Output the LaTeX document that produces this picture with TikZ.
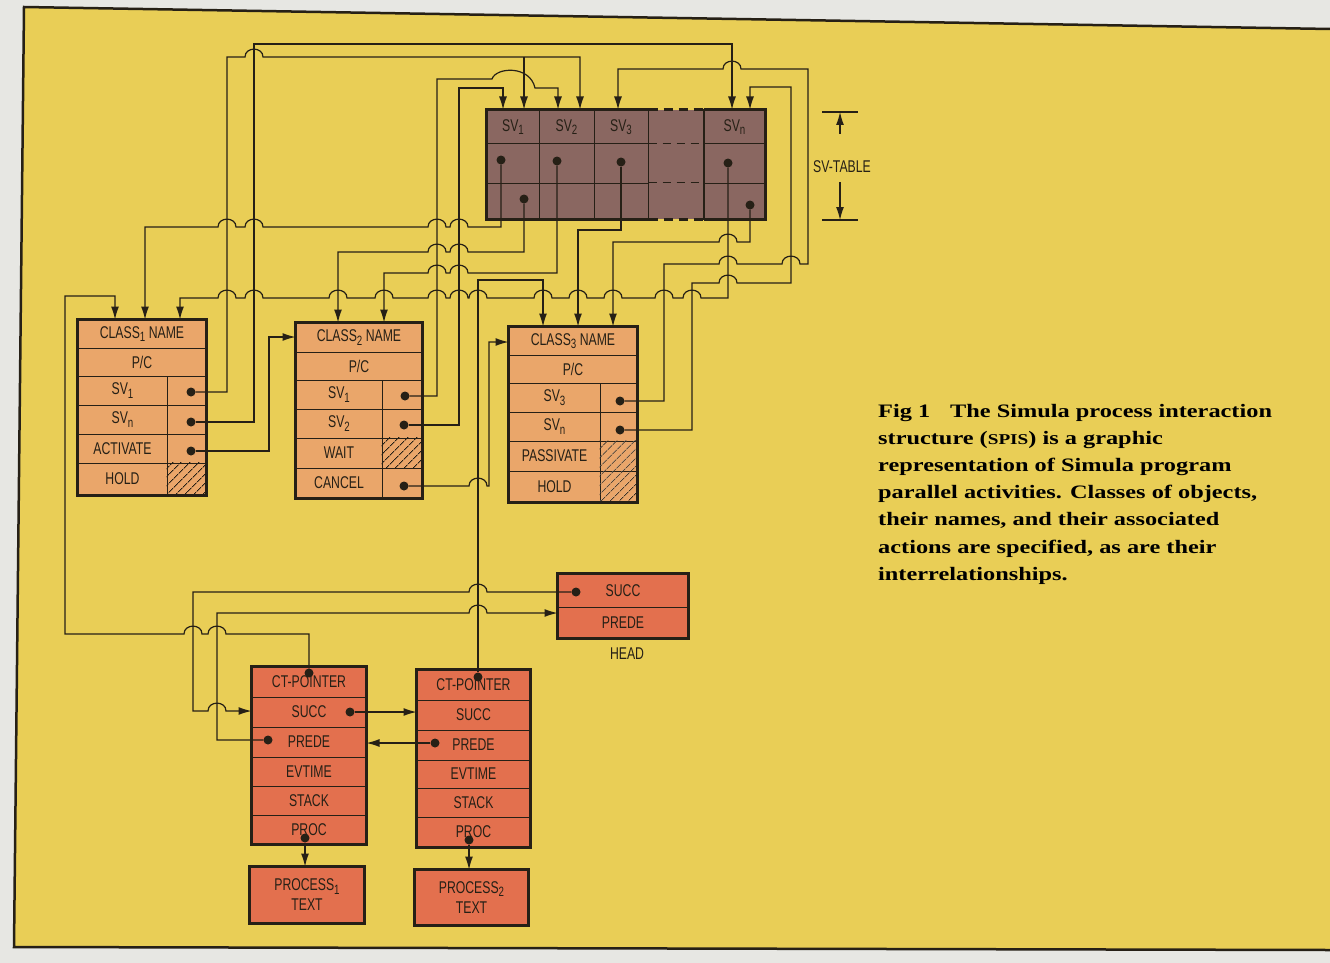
\documentclass[tikz,border=0pt]{standalone}
\usepackage{fontspec}
\setmainfont{Liberation Serif}
\newfontfamily\boxfont[FakeStretch=0.72]{Liberation Sans}
\newfontfamily\capfont[FakeStretch=1.28]{Liberation Serif}
\usetikzlibrary{arrows.meta,patterns.meta}
\definecolor{outbg}{RGB}{231,231,227}
\definecolor{panel}{RGB}{233,206,86}
\definecolor{classcol}{RGB}{234,166,106}
\definecolor{proccol}{RGB}{227,112,78}
\definecolor{svcol}{RGB}{138,103,97}
\definecolor{ink}{RGB}{38,32,22}
\colorlet{cellcol}{classcol}
\newcommand{\lowix}[1]{\raisebox{-3.5pt}{\fontsize{13.5}{13.5}\selectfont #1}}
\newcommand{\cellat}[6]{%
  \pgfmathsetmacro{\cwid}{#4-#2}\pgfmathsetmacro{\chgt}{#5-#3}%
  \node[cell,minimum width=\cwid pt,minimum height=\chgt pt] (#1) at ({(#2+#4)/2},{(#3+#5)/2}) {#6};}
\tikzset{
  wire/.style={draw=ink, line width=1.2pt},
  arr/.style={-{Latex[length=13pt,width=8pt]}},
  dot/.style={circle, fill=ink, inner sep=0pt, minimum size=9pt},
  cell/.style={draw=ink, line width=1pt, fill=cellcol, inner sep=0pt, text=ink, align=center,
    font={\boxfont\fontsize{17}{20}\selectfont}},
  boxedge/.style={draw=ink, line width=2.6pt},
  hatch/.style={pattern={Lines[angle=45,distance=6.5pt,line width=0.8pt]}, pattern color=ink},
  hopr/.style args={#1/#2}{insert path={-- (#1-9,#2) .. controls (#1-9,#2-10.5) and (#1+9,#2-10.5) .. (#1+9,#2)}},
  hopl/.style args={#1/#2}{insert path={-- (#1+9,#2) .. controls (#1+9,#2-10.5) and (#1-9,#2-10.5) .. (#1-9,#2)}},
  lbl/.style={text=ink, inner sep=0pt, font={\boxfont\fontsize{17}{20}\selectfont}},
  capline/.style={text=black, inner sep=0pt, anchor=base west, font={\capfont\bfseries\fontsize{19}{27}\selectfont}},
}
\begin{document}
\begin{tikzpicture}[x=1pt,y=-1pt]
\useasboundingbox (0,0) rectangle (1330,963);
\fill[outbg] (0,0) rectangle (1330,963);
\fill[panel] (24,7) -- (1330,29) -- (1330,950) -- (14,947) -- cycle;
\draw[ink, line width=2.5pt] (1330,29) -- (24,7) -- (14,947) -- (1330,950);

% ---------- CLASS 1 ----------
\colorlet{cellcol}{classcol}
\cellat{c1name}{78}{320}{206}{348}{CLASS\lowix{1} NAME}
\cellat{c1pc}{78}{348}{206}{376}{P/C}
\cellat{c1sv1}{78}{376}{167}{405}{SV\lowix{1}}
\cellat{c1sv1p}{167}{376}{206}{405}{}
\cellat{c1svn}{78}{405}{167}{434}{SV\lowix{n}}
\cellat{c1svnp}{167}{405}{206}{434}{}
\cellat{c1act}{78}{434}{167}{463}{ACTIVATE}
\cellat{c1actp}{167}{434}{206}{463}{}
\cellat{c1hold}{78}{463}{167}{495}{HOLD}
\cellat{c1holdp}{167}{463}{206}{495}{}
\path[hatch] (c1holdp.north west) rectangle (c1holdp.south east);
\draw[boxedge] (c1name.north west) rectangle (c1holdp.south east);
\node[dot] (c1sv1d) at (191,392) {};
\node[dot] (c1svnd) at (191,422) {};
\node[dot] (c1actd) at (191,451) {};

% ---------- CLASS 2 ----------
\cellat{c2name}{296}{323}{422}{352}{CLASS\lowix{2} NAME}
\cellat{c2pc}{296}{352}{422}{380}{P/C}
\cellat{c2sv1}{296}{380}{382}{409}{SV\lowix{1}}
\cellat{c2sv1p}{382}{380}{422}{409}{}
\cellat{c2sv2}{296}{409}{382}{438}{SV\lowix{2}}
\cellat{c2sv2p}{382}{409}{422}{438}{}
\cellat{c2wait}{296}{438}{382}{468}{WAIT}
\cellat{c2waitp}{382}{438}{422}{468}{}
\cellat{c2can}{296}{468}{382}{498}{CANCEL}
\cellat{c2canp}{382}{468}{422}{498}{}
\path[hatch] (c2waitp.north west) rectangle (c2waitp.south east);
\draw[boxedge] (c2name.north west) rectangle (c2canp.south east);
\node[dot] (c2sv1d) at (405,396) {};
\node[dot] (c2sv2d) at (404,425) {};
\node[dot] (c2cand) at (404,486) {};

% ---------- CLASS 3 ----------
\cellat{c3name}{509}{327}{637}{355}{CLASS\lowix{3} NAME}
\cellat{c3pc}{509}{355}{637}{383}{P/C}
\cellat{c3sv3}{509}{383}{600}{412}{SV\lowix{3}}
\cellat{c3sv3p}{600}{383}{637}{412}{}
\cellat{c3svn}{509}{412}{600}{441}{SV\lowix{n}}
\cellat{c3svnp}{600}{412}{637}{441}{}
\cellat{c3pas}{509}{441}{600}{471}{PASSIVATE}
\cellat{c3pasp}{600}{441}{637}{471}{}
\cellat{c3hold}{509}{471}{600}{502}{HOLD}
\cellat{c3holdp}{600}{471}{637}{502}{}
\path[hatch] (c3pasp.north west) rectangle (c3holdp.south east);
\draw[boxedge] (c3name.north west) rectangle (c3holdp.south east);
\node[dot] (c3sv3d) at (620,401) {};
\node[dot] (c3svnd) at (620,430) {};

% ---------- SV TABLE ----------
\colorlet{cellcol}{svcol}
\fill[svcol] (648,110) rectangle (704,219);
\cellat{t1h}{487}{110}{539}{144}{SV\lowix{1}}
\cellat{t1a}{487}{144}{539}{183}{}
\cellat{t1b}{487}{183}{539}{219}{}
\cellat{t2h}{539}{110}{594}{144}{SV\lowix{2}}
\cellat{t2a}{539}{144}{594}{183}{}
\cellat{t2b}{539}{183}{594}{219}{}
\cellat{t3h}{594}{110}{648}{144}{SV\lowix{3}}
\cellat{t3a}{594}{144}{648}{183}{}
\cellat{t3b}{594}{183}{648}{219}{}
\cellat{tnh}{704}{110}{765}{144}{SV\lowix{n}}
\cellat{tna}{704}{144}{765}{183}{}
\cellat{tnb}{704}{183}{765}{219}{}
\draw[boxedge] (t3h.north east) -- (t1h.north west) -- (t1b.south west) -- (t3b.south east);
\draw[boxedge] (tnh.north west) -- (tnh.north east) -- (tnb.south east) -- (tnb.south west);
\draw[ink, line width=1.3pt] (t3h.north east) -- (t3b.south east);
\draw[ink, line width=1.3pt] (tnh.north west) -- (tnb.south west);
\draw[ink, line width=2.6pt, dash pattern=on 9pt off 6pt] (t3h.north east) -- (tnh.north west);
\draw[ink, line width=2.6pt, dash pattern=on 9pt off 6pt] (t3b.south east) -- (tnb.south west);
\draw[ink, line width=1pt, dash pattern=on 8pt off 6pt] (t3a.north east) -- (tna.north west);
\draw[ink, line width=1pt, dash pattern=on 8pt off 6pt] (t3b.north east) -- (tnb.north west);
\node[dot] (t1ad) at (501,160) {};
\node[dot] (t1bd) at (524,199) {};
\node[dot] (t2ad) at (557,161) {};
\node[dot] (t3ad) at (621,162) {};
\node[dot] (tnad) at (728,163) {};
\node[dot] (tnbd) at (750,205) {};

% SV-TABLE dimension
\coordinate (dimtop) at (840,112);
\coordinate (dimbot) at (840,220);
\coordinate (dima) at (840,134);
\coordinate (dimb) at (840,182);
\draw[wire] (822,112) -- (858,112);
\draw[wire] (822,220) -- (858,220);
\node[lbl] (svtab) at (842,167) {SV-TABLE};
\draw[wire,arr] (dima) -- (dimtop);
\draw[wire,arr] (dimb) -- (dimbot);

% ---------- PROCESS OBJECTS ----------
\colorlet{cellcol}{proccol}
\cellat{p1ct}{252}{667}{366}{697}{CT-POINTER}
\cellat{p1suc}{252}{697}{366}{727}{SUCC}
\cellat{p1pre}{252}{727}{366}{757}{PREDE}
\cellat{p1evt}{252}{757}{366}{786}{EVTIME}
\cellat{p1stk}{252}{786}{366}{815}{STACK}
\cellat{p1proc}{252}{815}{366}{844}{PROC}
\draw[boxedge] (p1ct.north west) rectangle (p1proc.south east);
\cellat{p1txt}{250}{867}{364}{923}{PROCESS\lowix{1}\\TEXT}
\draw[boxedge] (p1txt.north west) rectangle (p1txt.south east);

\cellat{p2ct}{417}{670}{530}{700}{CT-POINTER}
\cellat{p2suc}{417}{700}{530}{730}{SUCC}
\cellat{p2pre}{417}{730}{530}{760}{PREDE}
\cellat{p2evt}{417}{760}{530}{788}{EVTIME}
\cellat{p2stk}{417}{788}{530}{817}{STACK}
\cellat{p2proc}{417}{817}{530}{847}{PROC}
\draw[boxedge] (p2ct.north west) rectangle (p2proc.south east);
\cellat{p2txt}{415}{870}{528}{925}{PROCESS\lowix{2}\\TEXT}
\draw[boxedge] (p2txt.north west) rectangle (p2txt.south east);

\cellat{hsuc}{558}{574}{688}{607}{SUCC}
\cellat{hpre}{558}{607}{688}{638}{PREDE}
\draw[boxedge] (hsuc.north west) rectangle (hpre.south east);
\node[lbl] (headlbl) at (627,654) {HEAD};

\node[dot] (p1ctd) at (309,673) {};
\node[dot] (p1sucd) at (350,712) {};
\node[dot] (p1pred) at (268,740) {};
\node[dot] (p1procd) at (305,838) {};
\node[dot] (p2ctd) at (478,677) {};
\node[dot] (p2pred) at (435,743) {};
\node[dot] (p2procd) at (469,840) {};
\node[dot] (hsucd) at (576,592) {};

% ---------- WIRES ----------
\draw[wire,arr] (c1sv1d) -- (227,392) -- (227,57) [hopr=254/57] -- (580,57) -- (580,0 |- t2h.north);
\coordinate (jD) at (524,57);
\draw[wire,arr] (jD) -- (jD |- t1h.north);
\draw[wire,arr] (c1svnd) -- (254,422) -- (254,44) -- (732,44) -- (732,0 |- tnh.north);
\draw[wire,arr] (c2sv1d) -- (437,396) -- (437,79) -- (492,79) .. controls (496,67) and (530,65) .. (535,88) -- (558,88) -- (558,0 |- t2h.north);
\draw[wire,arr] (c2sv2d) -- (459,425) -- (459,88) -- (503,88) -- (503,0 |- t1h.north);
\draw[wire,arr] (t1ad) -- (501,227) [hopl=459/227] [hopl=437/227] [hopl=254/227] [hopl=227/227] -- (145,227) -- (145,0 |- c1name.north);
\draw[wire,arr] (t1bd) -- (524,252) [hopl=459/252] [hopl=437/252] -- (338,252) -- (338,0 |- c2name.north);
\draw[wire,arr] (t2ad) -- (557,273) [hopl=459/273] [hopl=437/273] -- (384,273) -- (384,0 |- c2name.north);
\draw[wire,arr] (tnad) -- (728,298) [hopl=692/298] [hopl=664/298] [hopl=613/298] [hopl=578/298] [hopl=543/298] [hopl=478/298] [hopl=459/298] [hopl=437/298] [hopl=384/298] [hopl=338/298] [hopl=254/298] [hopl=227/298] -- (180,298) -- (180,0 |- c1name.north);
\draw[wire,arr] (t3ad) -- (621,230) -- (578,230) -- (578,0 |- c3name.north);
\draw[wire,arr] (tnbd) -- (750,242) [hopl=728/242] -- (613,242) -- (613,0 |- c3name.north);
\draw[wire,arr] (c3sv3d) -- (664,401) -- (664,264) [hopr=728/264] [hopr=791/264] -- (808,264) -- (808,69) [hopl=732/69] -- (618,69) -- (618,0 |- t3h.north);
\draw[wire,arr] (c3svnd) -- (692,430) -- (692,283) [hopr=728/283] -- (791,283) -- (791,87) -- (750,87) -- (750,0 |- tnh.north);
\draw[wire,arr] (p2ctd) -- (478,280) -- (543,280) -- (543,0 |- c3name.north);
\draw[wire,arr] (c2cand) [hopr=478/486] -- (489,486) -- (489,342) -- (c3name.west |- 0,342);
\draw[wire,arr] (c1actd) -- (269,451) -- (269,337) -- (c2name.west |- 0,337);
\draw[wire,arr] (p1ctd) -- (309,634) [hopl=217/634] [hopl=193/634] -- (65,634) -- (65,296) -- (115,296) -- (115,0 |- c1name.north);
\draw[wire,arr] (hsucd) [hopl=478/592] -- (193,592) -- (193,711) [hopr=217/711] -- (p1suc.west |- 0,711);
\draw[wire,arr] (p1pred) -- (217,740) -- (217,613) [hopr=478/613] -- (hpre.west |- 0,613);
\draw[wire,arr] (p1sucd) -- (p2suc.west |- p1sucd);
\draw[wire,arr] (p2pred) -- (p1pre.east |- p2pred);
\draw[wire,arr] (p1procd) -- (p1procd |- p1txt.north);
\draw[wire,arr] (p2procd) -- (p2procd |- p2txt.north);

% ---------- CAPTION ----------
\node[capline] (cap1) at (878,417) {Fig 1\hspace{20pt}The Simula process interaction};
\node[capline] (cap2) at (878,444.2) {structure ({\fontsize{15}{15}\selectfont SPIS}) is a graphic};
\node[capline] (cap3) at (878,471.4) {representation of Simula program};
\node[capline] (cap4) at (878,498.6) {parallel activities. Classes of objects,};
\node[capline] (cap5) at (878,525.8) {their names, and their associated};
\node[capline] (cap6) at (878,553) {actions are specified, as are their};
\node[capline] (cap7) at (878,580.2) {interrelationships.};
\end{tikzpicture}
\end{document}
